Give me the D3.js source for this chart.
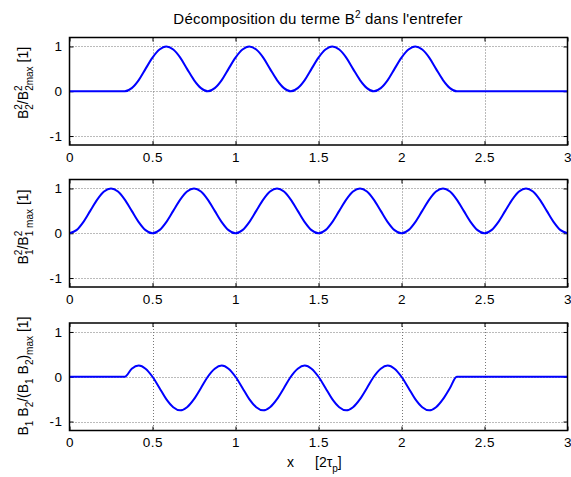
<!DOCTYPE html>
<html>
<head>
<meta charset="utf-8">
<script src="https://cdn.jsdelivr.net/npm/d3@7"></script>
<style>
  body { margin: 0; background: #fff; }
  text { font-family: "Liberation Sans", Arial, sans-serif; fill: #000; }
</style>
</head>
<body>
<div id="chart"></div>
<script>
// x positions read along the axis (unit 2*tau_p)
var xVals = [0, 0.042, 0.083, 0.125, 0.167, 0.208, 0.25, 0.292, 0.333, 0.375, 0.417, 0.458,
  0.5, 0.542, 0.583, 0.625, 0.667, 0.708, 0.75, 0.792, 0.833, 0.875, 0.917, 0.958,
  1, 1.042, 1.083, 1.125, 1.167, 1.208, 1.25, 1.292, 1.333, 1.375, 1.417, 1.458,
  1.5, 1.542, 1.583, 1.625, 1.667, 1.708, 1.75, 1.792, 1.833, 1.875, 1.917, 1.958,
  2, 2.042, 2.083, 2.125, 2.167, 2.208, 2.25, 2.292, 2.333, 2.375, 2.417, 2.458,
  2.5, 2.542, 2.583, 2.625, 2.667, 2.708, 2.75, 2.792, 2.833, 2.875, 2.917, 2.958, 3];

// B2^2 / B2max^2
var b2Sq = [0, 0, 0, 0, 0, 0, 0, 0,
  0, 0.07, 0.25, 0.5, 0.75, 0.93, 1, 0.93, 0.75, 0.5, 0.25, 0.07,
  0, 0.07, 0.25, 0.5, 0.75, 0.93, 1, 0.93, 0.75, 0.5, 0.25, 0.07,
  0, 0.07, 0.25, 0.5, 0.75, 0.93, 1, 0.93, 0.75, 0.5, 0.25, 0.07,
  0, 0.07, 0.25, 0.5, 0.75, 0.93, 1, 0.93, 0.75, 0.5, 0.25, 0.07,
  0, 0, 0, 0, 0, 0, 0, 0, 0, 0, 0, 0, 0, 0, 0, 0, 0];

// B1^2 / B1max^2
var b1Sq = [0, 0.07, 0.25, 0.5, 0.75, 0.93, 1, 0.93, 0.75, 0.5, 0.25, 0.07,
  0, 0.07, 0.25, 0.5, 0.75, 0.93, 1, 0.93, 0.75, 0.5, 0.25, 0.07,
  0, 0.07, 0.25, 0.5, 0.75, 0.93, 1, 0.93, 0.75, 0.5, 0.25, 0.07,
  0, 0.07, 0.25, 0.5, 0.75, 0.93, 1, 0.93, 0.75, 0.5, 0.25, 0.07,
  0, 0.07, 0.25, 0.5, 0.75, 0.93, 1, 0.93, 0.75, 0.5, 0.25, 0.07,
  0, 0.07, 0.25, 0.5, 0.75, 0.93, 1, 0.93, 0.75, 0.5, 0.25, 0.07, 0];

// B1B2 / (B1B2)max
var b1b2 = [0, 0, 0, 0, 0, 0, 0, 0,
  0, 0.18, 0.25, 0.18, 0, -0.25, -0.5, -0.68, -0.75, -0.68, -0.5, -0.25,
  0, 0.18, 0.25, 0.18, 0, -0.25, -0.5, -0.68, -0.75, -0.68, -0.5, -0.25,
  0, 0.18, 0.25, 0.18, 0, -0.25, -0.5, -0.68, -0.75, -0.68, -0.5, -0.25,
  0, 0.18, 0.25, 0.18, 0, -0.25, -0.5, -0.68, -0.75, -0.68, -0.5, -0.25,
  0, 0, 0, 0, 0, 0, 0, 0, 0, 0, 0, 0, 0, 0, 0, 0, 0];

var xTicks = [0, 0.5, 1, 1.5, 2, 2.5, 3];
var yTicks = [-1, 0, 1];

var svgWidth = 571;
var svgHeight = 477;

var svg = d3.select("#chart")
  .append("svg")
  .attr("width", svgWidth)
  .attr("height", svgHeight);

svg.append("rect")
  .attr("width", svgWidth)
  .attr("height", svgHeight)
  .attr("fill", "#fff");

var left = 69.5, right = 567.5, plotH = 107.5;
var tops = [37.5, 179.5, 323];

var x = d3.scaleLinear().domain([0, 3]).range([left, right]);

// label parts: s = "sup" | "sub" | null, dx = horizontal shift
var labels = [
  [{t: "B"}, {t: "2", s: "sup"}, {t: "2", s: "sub", dx: -5.5}, {t: "/B"}, {t: "2", s: "sup"},
    {t: "2max", s: "sub", dx: -5.5}, {t: " [1]"}],
  [{t: "B"}, {t: "2", s: "sup"}, {t: "1", s: "sub", dx: -5.5}, {t: "/B"}, {t: "2", s: "sup"},
    {t: "1 max", s: "sub", dx: -5.5}, {t: " [1]"}],
  [{t: "B"}, {t: "1", s: "sub"}, {t: " B"}, {t: "2", s: "sub"}, {t: "/(B"}, {t: "1", s: "sub"},
    {t: " B"}, {t: "2", s: "sub"}, {t: ")"}, {t: "max", s: "sub"}, {t: " [1]"}]
];
var labelY = [83, 227, 376];

function richText(textSel, parts) {
  var shift = 0;
  parts.forEach(function(p) {
    var target = p.s === "sup" ? -6 : (p.s === "sub" ? 4.5 : 0);
    var ts = textSel.append("tspan")
      .attr("dy", target - shift)
      .style("font-size", p.s ? "10px" : null)
      .text(p.t);
    if (p.dx) ts.attr("dx", p.dx);
    shift = target;
  });
}

var series = [b2Sq, b1Sq, b1b2];

series.forEach(function(vals, i) {
  var top = tops[i];
  var y = d3.scaleLinear().domain([-1.2, 1.2]).range([top + plotH, top]);
  var g = svg.append("g");
  var crisp = v => Math.round(v) + 0.5;

  // dotted grid
  g.selectAll(".gx")
    .data(xTicks.slice(1, -1))
    .enter()
    .append("line")
    .attr("x1", d => crisp(x(d))).attr("x2", d => crisp(x(d)))
    .attr("y1", top).attr("y2", top + plotH)
    .attr("stroke", "#777")
    .attr("stroke-dasharray", "1,2");

  g.selectAll(".gy")
    .data(yTicks)
    .enter()
    .append("line")
    .attr("x1", left).attr("x2", right)
    .attr("y1", d => crisp(y(d))).attr("y2", d => crisp(y(d)))
    .attr("stroke", "#777")
    .attr("stroke-dasharray", "1,2");

  // axes with inward ticks
  g.append("g")
    .attr("transform", `translate(0, ${top + plotH})`)
    .call(d3.axisBottom(x).tickValues(xTicks).tickFormat(d => String(d))
      .tickSizeInner(-4).tickSizeOuter(0).tickPadding(7));
  g.append("g")
    .attr("transform", `translate(0, ${top})`)
    .call(d3.axisTop(x).tickValues(xTicks).tickFormat("")
      .tickSizeInner(-4).tickSizeOuter(0));
  g.append("g")
    .attr("transform", `translate(${left}, 0)`)
    .call(d3.axisLeft(y).tickValues(yTicks).tickFormat(d => String(d))
      .tickSizeInner(-4).tickSizeOuter(0).tickPadding(7));
  g.append("g")
    .attr("transform", `translate(${right}, 0)`)
    .call(d3.axisRight(y).tickValues(yTicks).tickFormat("")
      .tickSizeInner(-4).tickSizeOuter(0));

  g.selectAll(".domain").remove();
  g.selectAll(".tick line").attr("stroke", "#000");
  g.selectAll(".tick text")
    .style("font-size", "13.5px")
    .style("letter-spacing", "0.5px")
    .style("font-family", "'Liberation Sans', Arial, sans-serif");

  // curve
  var line = d3.line()
    .x((d, k) => x(xVals[k]))
    .y(d => y(d))
    .curve(d3.curveMonotoneX);

  g.append("path")
    .datum(vals)
    .attr("fill", "none")
    .attr("stroke", "#0000ff")
    .attr("stroke-width", 2)
    .attr("d", line);

  // box
  g.append("rect")
    .attr("x", left).attr("y", top)
    .attr("width", right - left).attr("height", plotH)
    .attr("fill", "none")
    .attr("stroke", "#000")
    .attr("stroke-width", 1.5);

  // y label
  var yl = g.append("text")
    .attr("transform", `translate(28, ${labelY[i]}) rotate(-90)`)
    .attr("text-anchor", "middle")
    .style("font-size", "14px");
  richText(yl, labels[i]);
});

// title
var title = svg.append("text")
  .attr("x", 318)
  .attr("y", 24)
  .attr("text-anchor", "middle")
  .style("font-size", "15px")
  .style("letter-spacing", "0.2px");
richText(title, [{t: "Décomposition du terme B"}, {t: "2", s: "sup"}, {t: " dans l'entrefer"}]);

// x label
svg.append("text")
  .attr("x", 290.5)
  .attr("y", 467)
  .attr("text-anchor", "middle")
  .style("font-size", "14px")
  .text("x");
var xl = svg.append("text")
  .attr("x", 315)
  .attr("y", 467)
  .style("font-size", "14px");
richText(xl, [{t: "[2τ"}, {t: "p", s: "sub"}, {t: "]"}]);
</script>
</body>
</html>
